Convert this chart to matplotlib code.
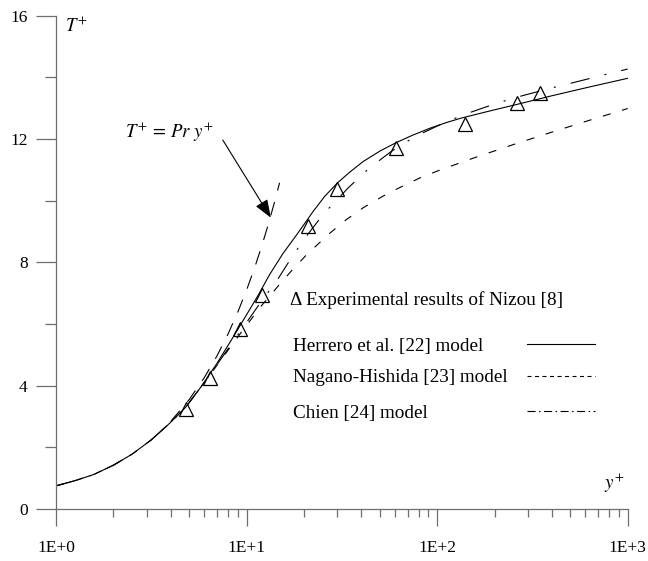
import numpy as np
import matplotlib
matplotlib.use("Agg")
import matplotlib.pyplot as plt
from matplotlib.ticker import FixedLocator, LogLocator, NullFormatter

plt.rcParams['font.family'] = ['Liberation Serif', 'DejaVu Serif']
plt.rcParams['mathtext.fontset'] = 'stix'
plt.rcParams['lines.scale_dashes'] = False

# Nizou experiment
exp_y = [4.79, 6.43, 9.27, 12.1, 20.9, 29.9, 60.8, 140, 263, 346]
exp_T = [3.23, 4.26, 5.83, 6.94, 9.18, 10.39, 11.70, 12.49, 13.18, 13.48]

# the three models share the conduction-dominated part near the wall
wall_y = [1.0, 1.26, 1.58, 2.0, 2.51, 3.16, 3.98, 4.79]
wall_T = [0.75, 0.92, 1.12, 1.42, 1.78, 2.24, 2.80, 3.30]

# Herrero et al. model
herrero_y = wall_y + [5.75, 6.92, 8.32, 10.0, 11.5, 13.2, 15.5, 18.6, 22.4, 25.7,
                      29.9, 34.7, 40.9, 50.1, 60.8, 74.1, 91.6, 110, 132, 186,
                      261, 398, 631, 1000]
herrero_T = wall_T + [3.95, 4.68, 5.48, 6.30, 6.93, 7.60, 8.28, 8.95, 9.66, 10.14,
                      10.57, 10.92, 11.27, 11.61, 11.88, 12.12, 12.35, 12.52, 12.67, 12.90,
                      13.12, 13.40, 13.69, 13.97]

# Nagano-Hishida model
nagano_y = wall_y + [5.75, 6.92, 8.32, 10.0, 12.0, 14.5, 17.4, 20.9, 27.4, 33.1,
                     40.9, 52.1, 63.8, 81.3, 104, 158, 251, 398, 631, 1000]
nagano_T = wall_T + [3.95, 4.62, 5.30, 5.96, 6.60, 7.20, 7.76, 8.28, 8.95, 9.37,
                     9.77, 10.15, 10.43, 10.74, 11.0, 11.4, 11.82, 12.22, 12.61, 12.99]

# Chien model
chien_y = wall_y + [5.75, 6.92, 8.32, 10.0, 12.0, 14.5, 17.4, 20.9, 24.0, 27.1,
                    34.2, 43.9, 57.5, 76.6, 100, 135, 205, 282, 407, 575, 807, 1000]
chien_T = wall_T + [3.95, 4.64, 5.35, 6.05, 6.75, 7.43, 8.20, 8.90, 9.38, 9.76,
                    10.42, 11.05, 11.6, 12.08, 12.42, 12.77, 13.16, 13.41, 13.67, 13.9, 14.13, 14.27]

# conduction sublayer, T+ = Pr y+
lin_y = [4, 5, 6, 7, 8, 9, 10, 11, 12, 13, 14, 14.9]
lin_T = [2.84, 3.55, 4.26, 4.97, 5.68, 6.39, 7.1, 7.81, 8.52, 9.23, 9.94, 10.58]

model_names = ['Herrero et al. [22] model', 'Nagano-Hishida [23] model', 'Chien [24] model']

x_ticks = [1, 10, 100, 1000]
x_labels = ['1E+0', '1E+1', '1E+2', '1E+3']
y_ticks = [0, 4, 8, 12, 16]

fs = 12.5
fs_key = 13.8
axis_col = '#6e6e6e'
lw = 0.8
herrero_ls = '-'
nagano_ls = (0, (5.8, 8.6))
chien_ls = (0, (14, 11, 1.5, 11))

fig = plt.figure(figsize=(6.48, 5.61), dpi=100)
ax = fig.add_axes([0.0864, 0.0927, 0.8823, 0.8793])

ax.plot(lin_y, lin_T, color='black', lw=lw, linestyle=(0, (10, 8.5)))
ax.plot(herrero_y, herrero_T, color='black', lw=lw, linestyle=herrero_ls)
ax.plot(nagano_y, nagano_T, color='black', lw=lw, linestyle=nagano_ls)
ax.plot(chien_y, chien_T, color='black', lw=lw, linestyle=chien_ls)
ax.plot(exp_y, exp_T, linestyle='none', marker='^', markersize=10.5, mfc='none',
        mec='black', mew=0.9)

ax.set_xscale('log')
ax.set_xlim(1, 1000)
ax.set_ylim(0, 16)

ax.set_xticks(x_ticks)
ax.set_xticklabels(x_labels)
ax.xaxis.set_minor_locator(LogLocator(base=10, subs=np.arange(2, 10)))
ax.xaxis.set_minor_formatter(NullFormatter())
ax.set_yticks(y_ticks)
ax.yaxis.set_minor_locator(FixedLocator([2, 6, 10, 14]))

for side in ['top', 'right']:
    ax.spines[side].set_visible(False)
for side in ['left', 'bottom']:
    ax.spines[side].set_color(axis_col)
    ax.spines[side].set_linewidth(0.9)

ax.tick_params(axis='x', which='major', direction='out', length=12.2, width=0.9,
               color=axis_col, pad=10, labelsize=fs)
ax.tick_params(axis='x', which='minor', direction='out', length=5.8, width=0.9,
               color=axis_col)
ax.tick_params(axis='y', which='major', direction='out', length=14.4, width=0.9,
               color=axis_col, pad=6, labelsize=fs)
ax.tick_params(axis='y', which='minor', direction='out', length=7.9, width=0.9,
               color=axis_col)

ax.text(0.016, 0.967, r'$T^{+}$', transform=ax.transAxes, fontsize=fs + 1,
        ha='left', va='baseline')
ax.text(0.958, 0.04, r'$y^{+}$', transform=ax.transAxes, fontsize=fs + 1,
        ha='left', va='baseline')

ax.text(2.3, 12.23, r'$T^{+}\,=\,Pr\ y^{+}$', fontsize=fs + 1, ha='left', va='center')
ax.annotate('', xy=(13.4, 9.45), xytext=(7.5, 11.97),
            arrowprops=dict(arrowstyle='-|>,head_length=1.1,head_width=0.42',
                            color='black', lw=lw, shrinkA=0, shrinkB=0))

# key: experiment line, then model names with line samples on the right
ax.text(0.409, 0.4237, '\u0394 Experimental results of Nizou [8]', transform=ax.transAxes,
        fontsize=fs_key, ha='left', va='center')
key_rows = [0.3304, 0.2656, 0.1946]
key_styles = [herrero_ls, (0, (2.9, 2.5)), (0, (5.8, 2.5, 1.1, 2.5))]
for name, row, style in zip(model_names, key_rows, key_styles):
    ax.text(0.4146, row, name, transform=ax.transAxes, fontsize=fs_key,
            ha='left', va='center')
    ax.plot([0.8239, 0.9428], [row + 0.005, row + 0.005], transform=ax.transAxes,
            color='black', lw=lw, linestyle=style)

fig.savefig('out.png', dpi=100)
